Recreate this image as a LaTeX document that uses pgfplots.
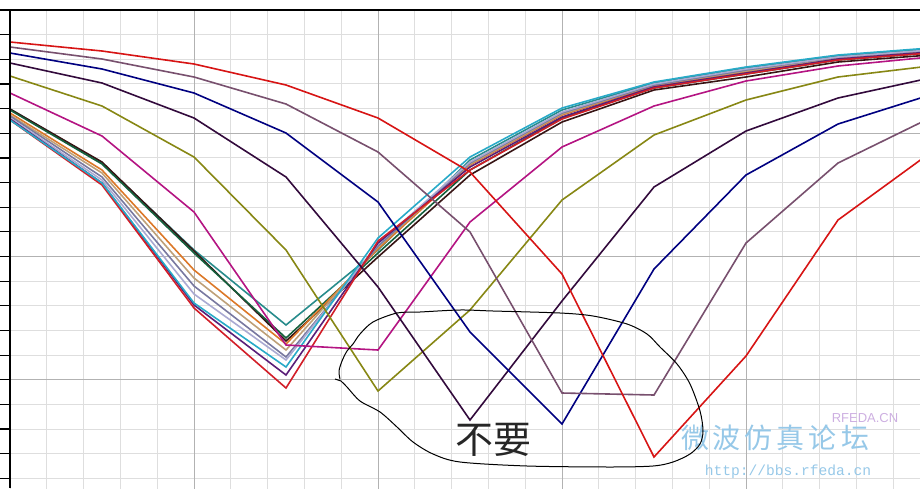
\documentclass[border=0pt]{standalone}
\usepackage{pgfplots}
\pgfplotsset{compat=1.18}
\usepackage{fontspec}
\newfontfamily\cjk{Noto Sans CJK SC}
\newfontfamily\monof{Liberation Mono}
\newfontfamily\sansf{Liberation Sans}
\definecolor{gridminor}{RGB}{222,222,222}
\definecolor{gridmajor}{RGB}{178,178,178}
\definecolor{cRed}{RGB}{215,20,20}
\definecolor{cMauve}{RGB}{120,80,110}
\definecolor{cNavy}{RGB}{0,0,128}
\definecolor{cDkPurple}{RGB}{50,10,60}
\definecolor{cOlive}{RGB}{135,135,20}
\definecolor{cMagenta}{RGB}{180,20,130}
\definecolor{cTeal}{RGB}{40,140,140}
\definecolor{cDark}{RGB}{55,20,20}
\definecolor{cGreen}{RGB}{20,95,60}
\definecolor{cOrange}{RGB}{220,120,40}
\definecolor{cTan}{RGB}{190,160,120}
\definecolor{cGray}{RGB}{120,120,160}
\definecolor{cLav}{RGB}{170,170,210}
\definecolor{cCyan}{RGB}{40,170,200}
\definecolor{cPurple}{RGB}{90,30,120}
\definecolor{cRed2}{RGB}{210,30,40}
\definecolor{wmBlue}{RGB}{150,200,232}
\definecolor{wmPink}{RGB}{205,175,225}
\begin{document}
\begin{tikzpicture}
\useasboundingbox (0,0) rectangle (460pt,244pt);
\clip (0,0) rectangle (460pt,244pt);
\begin{axis}[at={(5pt,-10pt)}, anchor=south west, scale only axis,
  width=455pt, height=249pt,
  xmin=0, xmax=9.8913, ymin=10, ymax=508, y dir=reverse,
  xtick={0,0.4,...,9.7}, ytick={10,34.65,...,500},
  xticklabels={}, yticklabels={},
  extra x ticks={2,4,6,8}, extra y ticks={133.25,256.5,379.75},
  extra x tick labels={}, extra y tick labels={},
  extra tick style={grid=major, major grid style={draw=gridmajor, line width=0.5pt}},
  grid=major, major grid style={draw=gridminor, line width=0.5pt},
  axis line style={draw=none},
  xtick pos=left, ytick pos=left, tick align=outside,
  major tick length=5pt, tick style={black, line width=0.6pt},
  every axis plot/.append style={line width=0.8pt, mark=none}]
% cluster (minimum at index 3)
\addplot[cTeal] coordinates {(0,109)(1,163)(2,250)(3,325)(4,250)(5,160)(6,110)(7,83)(8,68)(9,56)(10,49)};
\addplot[cDark] coordinates {(0,109)(1,162)(2,251)(3,341)(4,257)(5,175)(6,122)(7,90)(8,77)(9,62)(10,55)};
\addplot[cGreen] coordinates {(0,110)(1,164)(2,253)(3,338)(4,253)(5,170)(6,118)(7,88)(8,74)(9,60)(10,53)};
\addplot[cOrange] coordinates {(0,113)(1,170)(2,270)(3,344)(4,249)(5,165)(6,115)(7,86)(8,72)(9,58)(10,51)};
\addplot[cTan] coordinates {(0,115)(1,173)(2,278)(3,350)(4,247)(5,164)(6,114)(7,85)(8,71)(9,58)(10,51)};
\addplot[cGray] coordinates {(0,116)(1,177)(2,286)(3,357)(4,246)(5,163)(6,113)(7,85)(8,70)(9,57)(10,50)};
\addplot[cLav] coordinates {(0,118)(1,180)(2,294)(3,360)(4,244)(5,162)(6,112)(7,84)(8,69)(9,57)(10,50)};
\addplot[cPurple] coordinates {(0,119)(1,183)(2,305)(3,375)(4,243)(5,167)(6,117)(7,87)(8,73)(9,59)(10,52)};
\addplot[cRed2] coordinates {(0,120)(1,185)(2,308)(3,388)(4,241)(5,170)(6,119)(7,88)(8,74)(9,60)(10,53)};
\addplot[cCyan] coordinates {(0,120)(1,183)(2,303)(3,367)(4,238)(5,157)(6,108)(7,82)(8,67)(9,55)(10,48)};
% shifted series
\addplot[cMagenta] coordinates {(0,93)(1,136)(2,212)(3,345)(4,350)(5,222)(6,147)(7,106)(8,81)(9,66)(10,57)};
\addplot[cOlive] coordinates {(0,76)(1,106)(2,157)(3,250)(4,391)(5,310)(6,200)(7,135)(8,100)(9,77)(10,66)};
\addplot[cDkPurple] coordinates {(0,63)(1,83)(2,118)(3,177)(4,287)(5,420)(6,301)(7,187)(8,131)(9,98)(10,78)};
\addplot[cNavy] coordinates {(0,53)(1,69)(2,93)(3,133)(4,202)(5,332)(6,424)(7,269)(8,175)(9,124)(10,95)};
\addplot[cMauve] coordinates {(0,47)(1,59)(2,77)(3,104)(4,152)(5,232)(6,393)(7,395)(8,243)(9,163)(10,118)};
\addplot[cRed] coordinates {(0,42)(1,51)(2,64)(3,85)(4,118)(5,172)(6,274)(7,457)(8,356)(9,220)(10,153)};
\end{axis}
\begin{scope}[shift={(0pt,244pt)},x=0.5pt,y=-0.5pt]
\draw[black,line width=0.75pt] (0,10)--(920,10);
\draw[black,line width=0.75pt] (10,10)--(10,488);
% watermark
\node[text=wmBlue,font=\cjk\fontsize{14}{14}\selectfont,inner sep=0pt] at (775,438)
  {\makebox[16pt]{微}\makebox[16pt]{波}\makebox[16pt]{仿}\makebox[16pt]{真}\makebox[16pt]{论}\makebox[16pt]{坛}};
\node[text=wmBlue,font=\monof\fontsize{7.3}{8}\selectfont,inner sep=0pt] at (788,472) {http://bbs.rfeda.cn};
\node[text=wmPink,font=\sansf\fontsize{6.5}{7}\selectfont,inner sep=0pt] at (865,418) {RFEDA.CN};
% hand-drawn loop
\draw[black,line width=0.5pt] (335,379)--(341,381);
\draw[black,line width=0.5pt] plot[smooth, tension=0.5] coordinates {
(340,379)(339,371)(342,361)(347,351)(353,344)(360,334)(373,322)(397,313)(420,312)(460,310)(493,311)
(560,313)(593,316)(627,324)(647,334)(660,347)(677,364)(690,384)(700,411)(703,431)(700,444)
(690,454)(673,462)(653,466)(610,467)(527,466)(460,462)(433,454)(413,442)(397,427)(380,412)
(360,401)(347,387)(341,381)};
\node[text=black!85,font=\cjk\fontsize{19}{19}\selectfont,inner sep=0pt] at (493,440) {不要};
\end{scope}
\end{tikzpicture}
\end{document}
